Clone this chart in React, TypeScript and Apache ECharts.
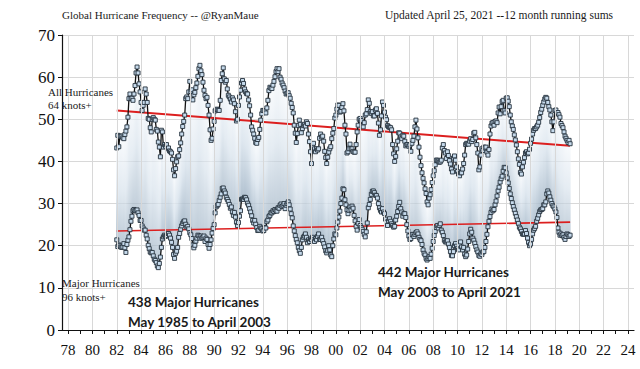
import React, { useEffect, useRef } from "react";
import * as echarts from "echarts";

// Monthly 12-month running sums. On this chart the first month sits on the "82" tick.
const START_YEAR = 1982;

const allHurricanes = [
  43.2, 46.2, 43.5, 46, 46, 46, 45.6, 45.4, 46.4, 47.2,
  48.2, 50.5, 54.9, 56, 54.9, 55, 54.5, 56, 58, 61,
  62.4, 61, 58.4, 56.5, 54, 52.1, 53.3, 54, 57.2, 56,
  54, 50.2, 50, 48, 47, 50, 50.4, 50, 49.8, 47.6,
  47.2, 44.6, 43.4, 41.1, 47.4, 47, 43.4, 44, 43.6, 44,
  43, 43.2, 42.5, 42.3, 42, 40.5, 38, 36.6, 38.3, 39.9,
  41.1, 41.3, 42.8, 44.4, 46.5, 48.3, 49.5, 51, 54.9, 55.3,
  54.9, 56.5, 59, 56.6, 57, 54.6, 55.8, 56.4, 57.5, 58.6,
  60.2, 62, 62.8, 61.5, 60.6, 58.8, 56.9,
  55.7, 54.9, 55.2, 53.3, 51, 47.5, 45, 45.5, 47.7, 49.5,
  52, 52.3, 52.4, 52.2, 52.1, 54.5, 59.2, 60.8, 62.2, 59.6,
  58.8, 59.2, 57.2, 55.7, 55.3, 54.8, 54.1, 55.1, 54.6, 53.7,
  51.8, 49.6, 50, 53.3, 55.3, 56.9, 58.6, 59.2, 58.5, 57.2,
  56.5, 56.1, 56, 54.6, 53.2, 51, 48.2, 47.4, 46.5, 45.5,
  44.5, 44.3, 45.2, 45.7, 47.6, 49.8, 51.3, 52.1, 52.1, 52,
  51.5, 52.7, 54.5, 56.8, 57.6, 57.4, 57.3, 58.1, 59, 60.1,
  61.3, 62, 61.3, 62, 60, 59.5, 58.6, 58.1, 57.5, 56.7,
  56, 56.2, 56.3, 55.6, 55, 53.8, 52.8, 51.5, 48.6, 46.7,
  44.5, 46.6, 48.5, 49.8, 48.8, 46.8, 47.8, 48.5, 48.8, 48.4,
  49.4, 49, 46.5, 44.7, 42.3, 39.5, 43.5, 44.3, 43, 42.3,
  43, 42.7, 43, 45.5, 46.5, 45.8, 46, 44.8, 42.4, 40.9,
  39.5, 41, 42.2, 43, 43.5, 45.4, 46.7, 47.8, 50.3, 51,
  52.4, 53.4, 53.3, 51.7, 51.9, 52.8, 53.7, 52, 48.6, 46.5,
  42, 42.3, 43, 44.1, 43, 43, 42.4, 42.2, 42.2, 44,
  47, 48.6, 50, 50.2, 49.7, 48.4, 48.2, 49.2, 51, 51.3,
  52.3, 54.6, 53.8, 51.8, 51.4, 51.8, 50.8, 50.8, 52.2, 52.5,
  51.4, 49.1, 46.2, 47.5, 50.8, 54.1, 53.3, 51.7, 50.5, 49.9,
  48.5, 48.2, 48.1, 48, 47.5, 44, 41.8, 40, 41.2, 43,
  44.8, 46.8, 46.7, 45.8, 45.4, 46.2, 46, 44.8, 43.7,
  44, 44, 43.6, 43.9, 42.4, 44.3, 45, 46, 48.2, 49.8,
  47.7, 45.6, 43.4, 41, 39, 37.3, 36, 34.9, 33.5, 32.4,
  30.4, 29.7, 31.3, 32.1, 33.3, 35, 36.6, 37.8, 39.2, 40.3,
  40.3, 40.1, 39.8, 39.9, 40.3, 43.2, 44, 42.6, 42, 40.7,
  42.3, 41.4, 40.2, 39.4, 38.2, 37.5, 40.8, 41.3, 40.3, 38.7,
  37.6, 37, 36.6, 37.3, 37.3, 38.2, 39.5, 41.5, 44, 44.3,
  44.2, 44.1, 44.8, 45.4, 44.7, 45.2, 46.7, 46.9, 45.6, 44,
  42, 38, 38.7, 41.5, 43, 42.6, 43.4, 43.2, 43.4, 42.2,
  41.5, 42.8, 46.5, 48.4, 49.1,
  49.2, 48.6, 49.5, 49.6, 49.2, 51.5, 52.9, 51.3, 53, 54.2,
  54.5, 52, 51.5, 55, 55.1, 54.3, 53, 51, 49.4, 48.4,
  47.6, 46.3, 45.1, 43.9, 42.3, 40.6, 39.3, 37.4, 37, 38.7,
  39.8, 40.9, 42, 42.3, 41.8, 42, 42.9, 44.3, 45.3, 46.5,
  47.4, 47.8, 47.8, 48.2, 48.6, 49.3, 50.4, 51.6, 52.4, 53.3,
  54.1, 54.8, 55.2, 55, 54, 53, 52.2, 51, 49.4, 47.3,
  49.4, 52.1, 52.2, 51.4, 51.6, 51.1,
  50.5, 49, 48.5, 48, 47, 46, 45.5, 45, 44.5, 45, 44.2,
];

const majorHurricanes = [
  21.4, 19.8, 20.2, 20, 19.7, 19.6, 19.7, 20.5, 19.5, 18.4,
  20.3, 21.3, 22.1, 23.8, 25.8, 27, 28.3, 28.6, 28.3, 28.3,
  28.5, 27.8, 27.2, 26, 26, 24.7, 24.2, 23.7, 23.7, 22.5,
  21.6, 20.1, 19.3, 18.5, 18.3, 18.4, 17.6, 16.8, 16.5, 16,
  15.2, 14.8, 15.8, 17.3, 19.6, 21.6, 22.1, 22.5, 22.2, 22.4,
  22.9, 22.9, 22.5, 21.8, 20.8, 19.6, 17.9, 17, 18.2, 18.7,
  19.6, 22, 22.9, 23.9, 24.7, 25.3, 25.7, 25.9, 25.1, 24.4,
  24.6, 24, 23.1, 22.6, 21.7, 20.2, 19.5, 20.1, 21.1, 21.8,
  22.5, 22.3, 21.8, 22.3, 21.8, 22, 22.3,
  21, 21.8, 21.5, 20.3, 19.4, 20.3, 21.4, 23, 24.1, 25,
  27.8, 29.2, 29.5, 29.8, 30.7, 31.5, 32.3, 33.6, 33.7, 33,
  32.5, 31.5, 31, 30.5, 29.8, 28.9, 29.2, 28, 27.2, 27.9,
  26.8, 25.6, 24.8, 25.5, 27, 28.3, 31, 31.1, 31, 31.5,
  31.4, 30.9, 30.1, 29.6, 28.8, 28, 27.1, 26, 25.4, 26,
  25.1, 24.3, 23.6, 23.7, 24.6, 24.2, 24, 23.5, 23.6, 24.3,
  24.2, 25.7, 26.1, 26.9, 27.2, 27.8, 27.8, 28.3, 28.1, 28.6,
  28.3, 28.2, 29, 28.9, 29.6, 29.9, 29.3, 29.6, 30, 28.8,
  29.6, 30, 30.4, 29.7, 28.7, 27.6, 26.6, 24.7, 23.5, 22.4,
  21.5, 20.7, 19.6, 18.8, 18.2, 19.6, 21.4, 22, 22.3, 22.8,
  22, 20.7, 21.4, 21, 21.6, 21.4, 22, 21.4, 21, 21.7,
  21.4, 22.2, 22.8, 21.5, 21.5, 22, 21.2, 20.5, 19.7, 18.8,
  18.3, 18.8, 20, 19, 17.8, 17.4, 20, 21.6, 22.8, 22.6,
  24.2, 25.6, 26.8, 28.2, 30, 31.3, 33.5, 33.3, 30.9, 29.7,
  28.5, 27.6, 28.4, 29.2, 28.5, 29.4, 28.9, 27.2, 25.9, 24.6,
  23.7, 25.3, 26.2, 24.8, 24.3, 23.9, 23.4, 22.7, 22.1, 23.3,
  25.4, 29, 29.8, 31, 32.2, 32.9, 33, 32.6, 32, 31.9,
  31.3, 30, 29, 28.4, 28, 28.8, 28, 27.6, 26.3, 25.6,
  24.8, 25.9, 26.4, 25.8, 25.2, 24.8, 24.4, 24.6, 26.1, 27,
  28.1, 29.3, 30.3, 28.8, 28, 27, 27.6, 27.6, 26.7,
  25, 23.5, 22.3, 21.5, 21.7, 22.6, 22.7, 22.2, 22.7, 23.1,
  23.3, 22.8, 22, 21.5, 21.2, 20.3, 19, 18.2, 17.8, 17,
  16.6, 17, 17.4, 17, 18, 19.4, 21, 22.4, 23.4, 24.3,
  24.8, 24.2, 24.8, 25.2, 23.7, 23.2, 22.4, 21.3, 20.9, 20.9,
  21.2, 20.4, 19.6, 18.6, 17.7, 17.6, 18.6, 20, 20.5, 19.9,
  19.4, 19, 20.2, 20.9, 19.7, 19, 19.6, 18, 17.4, 17.8,
  19.2, 21, 22.8, 23.9, 23.2, 21.8, 21.3, 20.6, 19.8, 19,
  18.5, 17.7, 17.5, 18.1, 17.9, 18.5, 18.6, 19.6, 21, 22.7,
  24.5, 25.8, 26.9, 27.9, 28.7,
  28.3, 28.6, 29.7, 30.6, 31.8, 33, 33.9, 35.1, 35.9, 36.5,
  37.7, 38.6, 38.5, 37.3, 36.1, 34.9, 33.6, 32.3, 31.2, 30.2,
  29.3, 28.5, 27.7, 26.9, 26.1, 25.3, 24.4, 24, 23.4, 22.8,
  22.7, 22.8, 23.6, 22.9, 21.8, 20.8, 20, 20.4, 21.5, 22.8,
  23.7, 24.1, 24.6, 25.8, 26.5, 27.3, 28.1, 28.5, 28.6, 28.8,
  29.7, 29.7, 30.4, 32.3, 33, 32.5, 31.6, 30.8, 30, 29.5,
  29.2, 28.7, 28, 26.7, 24.2, 23.2,
  22.5, 22.8, 22.4, 22.6, 22, 21.5, 22.2, 22.8, 22.6, 22.2, 22.5,
];

// Linear trend lines [axis year, value]
const trendAll = [[1982, 52.1], [2019.25, 43.7]];
const trendMajor = [[1982, 23.5], [2019.25, 25.6]];

// Axis: categories centred on ticks, so the frame runs half a year beyond the first and last label
const xMin = 1977.5;
const xMax = 2024.5;
const labelYears = [1978, 1980, 1982, 1984, 1986, 1988, 1990, 1992, 1994, 1996, 1998, 2000, 2002, 2004, 2006, 2008, 2010, 2012, 2014, 2016, 2018, 2020, 2022, 2024];
const tickYears = [1978, 1979, 1980, 1981, 1982, 1983, 1984, 1985, 1986, 1987, 1988, 1989, 1990, 1991, 1992, 1993, 1994, 1995, 1996, 1997, 1998, 1999, 2000, 2001, 2002, 2003, 2004, 2005, 2006, 2007, 2008, 2009, 2010, 2011, 2012, 2013, 2014, 2015, 2016, 2017, 2018, 2019, 2020, 2021, 2022, 2023, 2024];
const yMin = 0;
const yMax = 70;

const titleLeft = "Global Hurricane Frequency -- @RyanMaue";
const titleRight = "Updated April 25, 2021 --12 month running sums";
const labelAll = ["All Hurricanes", "64 knots+"];
const labelMajor = ["Major Hurricanes", "96 knots+"];
const notePeriod1 = ["438 Major Hurricanes", "May 1985 to April 2003"];
const notePeriod2 = ["442 Major Hurricanes", "May 2003 to April 2021"];

const SERIF = "'Liberation Serif', 'DejaVu Serif', serif";
const NOTE_FONT = "bold 13.5px Lato, 'Open Sans', sans-serif";

export default function App() {
  const ref = useRef<HTMLDivElement>(null);

  useEffect(() => {
    if (!ref.current) return;
    document.body.style.margin = "0";
    const chart = echarts.init(ref.current, null, { renderer: "svg" });

    const yearOf = (i: number) => START_YEAR + i / 12;
    const upperData = allHurricanes.map((v, i) => [yearOf(i), v]);
    const lowerData = majorHurricanes.map((v, i) => [yearOf(i), v]);
    const bandData = allHurricanes.map((v, i) => [yearOf(i), majorHurricanes[i], v]);

    const fillGrad = new echarts.graphic.LinearGradient(0, 0, 0, 1, [
      { offset: 0, color: "#f6f9fc" },
      { offset: 0.5, color: "#d7e2ec" },
      { offset: 1, color: "#9fb3c5" },
    ]);

    const txt = (text: string, x: number, y: number, font: string, fill = "#1a1a1a") => ({
      type: "text",
      x,
      y,
      silent: true,
      z: 10,
      style: { text, font, fill, textAlign: "left", textVerticalAlign: "middle", align: "left", verticalAlign: "middle" },
    });

    const markerStyle = {
      color: "#c6daec",
      borderColor: "#26323d",
      borderWidth: 0.9,
    };

    chart.setOption({
      animation: false,
      backgroundColor: "#ffffff",
      grid: { left: 62, right: 6, top: 35, bottom: 39, containLabel: false },
      xAxis: {
        type: "value",
        min: xMin,
        max: xMax,
        axisLine: { show: true, lineStyle: { color: "#111", width: 1.2 } },
        axisTick: { show: true, length: 4, customValues: tickYears, lineStyle: { color: "#111" } },
        splitLine: { show: false },
        axisLabel: {
          customValues: labelYears,
          color: "#111",
          fontFamily: SERIF,
          fontSize: 15,
          margin: 12,
          formatter: (v: number) => String(Math.round(v) % 100).padStart(2, "0"),
        },
      },
      yAxis: {
        type: "value",
        min: yMin,
        max: yMax,
        interval: 10,
        axisLine: { show: true, lineStyle: { color: "#111", width: 1.2 } },
        axisTick: { show: true, length: 4, lineStyle: { color: "#111" } },
        splitLine: { show: true, lineStyle: { color: "#d8d8d8", width: 1 } },
        axisLabel: { color: "#111", fontFamily: SERIF, fontSize: 17, margin: 7 },
      },
      series: [
        {
          type: "line",
          name: "gridlines",
          z: 0,
          data: trendAll,
          symbol: "none",
          silent: true,
          lineStyle: { opacity: 0 },
          markLine: {
            silent: true,
            symbol: "none",
            label: { show: false },
            lineStyle: { color: "#d8d8d8", type: "solid", width: 1 },
            data: labelYears.map((y) => ({ xAxis: y })),
          },
        },
        {
          type: "custom",
          name: "band",
          z: 1,
          clip: true,
          data: bandData,
          encode: { x: 0, y: [1, 2] },
          renderItem: (params: any, api: any) => {
            const x = api.value(0);
            const lo = api.coord([x, api.value(1)]);
            const hi = api.coord([x, api.value(2)]);
            const w = api.size([1 / 12, 0])[0];
            return {
              type: "rect",
              shape: { x: lo[0] - w / 2, y: hi[1], width: Math.max(w * 0.8, 0.8), height: lo[1] - hi[1] },
              style: { fill: fillGrad },
            };
          },
        },
        {
          type: "line",
          name: "All Hurricanes trend",
          z: 3,
          data: trendAll,
          symbol: "none",
          lineStyle: { color: "#dc1f1f", width: 2 },
        },
        {
          type: "line",
          name: "Major Hurricanes trend",
          z: 3,
          data: trendMajor,
          symbol: "none",
          lineStyle: { color: "#dc1f1f", width: 1.6 },
        },
        {
          type: "line",
          name: "All Hurricanes",
          z: 4,
          data: upperData,
          symbol: "rect",
          symbolSize: 4,
          showSymbol: true,
          showAllSymbol: true,
          lineStyle: { color: "#111", width: 1.3 },
          itemStyle: markerStyle,
        },
        {
          type: "line",
          name: "Major Hurricanes",
          z: 4,
          data: lowerData,
          symbol: "rect",
          symbolSize: 4,
          showSymbol: true,
          showAllSymbol: true,
          lineStyle: { color: "#111", width: 1.3 },
          itemStyle: markerStyle,
        },
      ],
      graphic: [
        txt(titleLeft, 62, 15, `11px ${SERIF}`),
        txt(titleRight, 385, 15, `11.5px ${SERIF}`),
        txt(labelAll[0], 48, 92, `11px ${SERIF}`),
        txt(labelAll[1], 48, 105, `11px ${SERIF}`),
        txt(labelMajor[0], 62, 283, `11px ${SERIF}`),
        txt(labelMajor[1], 62, 297, `11px ${SERIF}`),
        txt(notePeriod1[0], 128, 302, NOTE_FONT),
        txt(notePeriod1[1], 128, 322, NOTE_FONT),
        txt(notePeriod2[0], 378, 272, NOTE_FONT),
        txt(notePeriod2[1], 378, 292, NOTE_FONT),
      ],
    });

    return () => chart.dispose();
  }, []);

  return <div ref={ref} style={{ width: 640, height: 369 }} />;
}
